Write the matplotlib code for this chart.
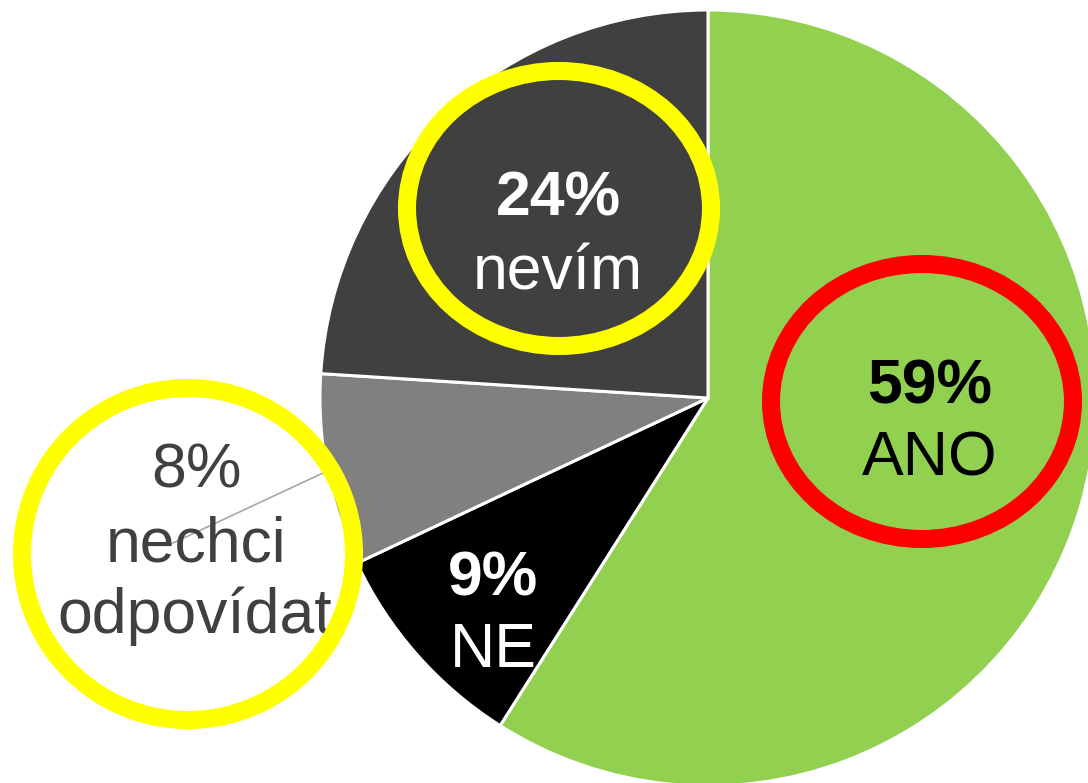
import matplotlib.pyplot as plt
from matplotlib.patches import Ellipse

# slices, clockwise from 12 o'clock
labels = ["ANO", "NE", "nechci\nodpovídat", "nevím"]
shares = [59, 9, 8, 24]
colors = ["#92D050", "#000000", "#808080", "#404040"]

W, H = 1088, 783
fig = plt.figure(figsize=(W / 100, H / 100), dpi=100)
ax = fig.add_axes([0, 0, 1, 1])
ax.set_xlim(0, W)
ax.set_ylim(0, H)
ax.axis("off")

def py(y):
    # pixel row (from top) -> data y
    return H - y

plt.rcParams["font.family"] = ["Liberation Sans", "DejaVu Sans"]

ax.pie(shares, colors=colors, startangle=90, counterclock=False,
       center=(708, py(398)), radius=388, frame=True,
       wedgeprops=dict(edgecolor="white", linewidth=2.2))
ax.set_xlim(0, W)
ax.set_ylim(0, H)
ax.set_aspect("auto")
ax.axis("off")

# leader line for the small slice
ax.plot([323, 173], [py(473), py(543)], color="#A6A6A6", lw=1.2, zorder=3)

fs = 45
# (x, baseline of pct, baseline of name, color)
label_pos = [
    (930, 403, 475, "black", True),
    (493, 595, 667, "white", True),
    (196, 487, None, "#404040", False),
    (558, 216, 289, "white", True),
]
for (x, b1, b2, c, bold), lab, s in zip(label_pos, labels, shares):
    ax.text(x, py(b1), f"{s}%", ha="center", va="baseline", fontsize=fs,
            color=c, fontweight="bold" if bold else "normal", zorder=4)
    if b2 is not None:
        ax.text(x, py(b2), lab, ha="center", va="baseline", fontsize=fs,
                color=c, zorder=4)
    else:
        l1, l2 = lab.split("\n")
        ax.text(x, py(561), l1, ha="center", va="baseline", fontsize=fs,
                color=c, zorder=4)
        ax.text(x - 1, py(633), l2, ha="center", va="baseline", fontsize=fs,
                color=c, zorder=4)

# highlight rings
rings = [
    ((922, 401.5), 302, 275, "#FF0000"),
    ((559, 208.5), 304, 275, "#FFFF00"),
    ((188, 554), 332, 332, "#FFFF00"),
]
for (cx, cy), w, h, c in rings:
    ax.add_patch(Ellipse((cx, py(cy)), w, h, fill=False, edgecolor=c,
                         linewidth=13, zorder=5))

fig.savefig("out.png", dpi=100)
